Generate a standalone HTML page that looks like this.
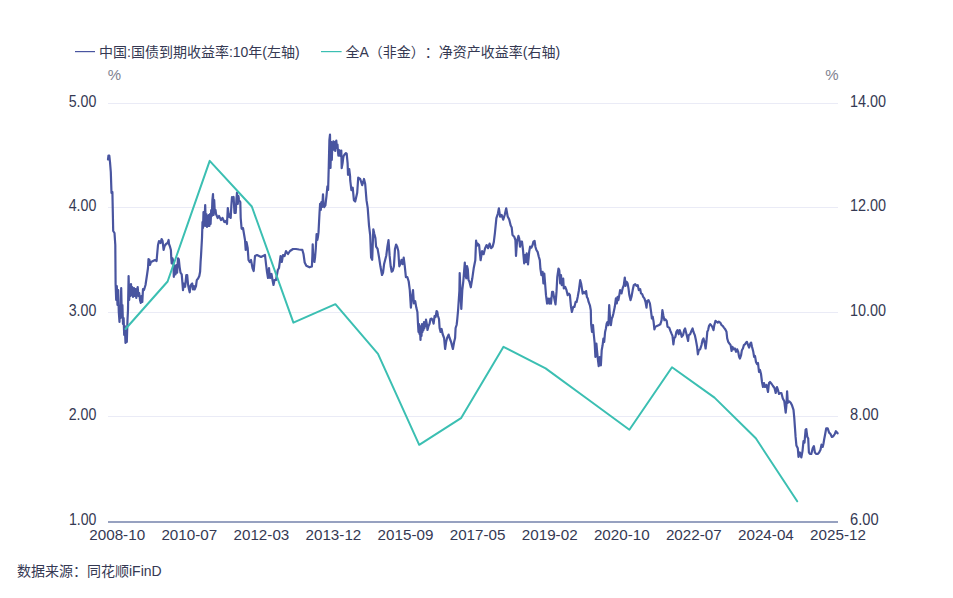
<!DOCTYPE html>
<html><head><meta charset="utf-8"><style>
html,body{margin:0;padding:0;background:#fff;}
svg{display:block;}
text{font-family:"Liberation Sans", "Noto Sans CJK SC", sans-serif;text-spacing-trim:space-all;}
</style></head><body>
<svg width="953" height="598" viewBox="0 0 953 598">
<rect width="953" height="598" fill="#fff"/>
<rect x="75" y="51" width="20" height="1.2" fill="#4955a0"/>
<text x="99" y="56.8" font-size="14" fill="#353953">中国:国债到期收益率:10年(左轴)</text>
<rect x="321" y="51" width="20.6" height="1.2" fill="#3bbfb2"/>
<text x="345.5" y="56.8" font-size="14" fill="#353953">全A（非金）：净资产收益率(右轴)</text>
<text x="114.5" y="79.5" font-size="15" fill="#80828f" text-anchor="middle">%</text>
<text x="832" y="79.5" font-size="15" fill="#80828f" text-anchor="middle">%</text>
<rect x="108" y="103" width="730" height="1" fill="#eaebf6"/>
<rect x="108" y="207" width="730" height="1" fill="#eaebf6"/>
<rect x="108" y="312" width="730" height="1" fill="#eaebf6"/>
<rect x="108" y="416" width="730" height="1" fill="#eaebf6"/>
<rect x="108" y="521" width="730" height="2" fill="#97a1c0"/>
<text x="68.7" y="106.9" font-size="15.6" fill="#353953" textLength="27.7" lengthAdjust="spacingAndGlyphs">5.00</text>
<text x="850.0" y="106.9" font-size="15.6" fill="#353953" textLength="36.1" lengthAdjust="spacingAndGlyphs">14.00</text>
<text x="68.7" y="211.4" font-size="15.6" fill="#353953" textLength="27.7" lengthAdjust="spacingAndGlyphs">4.00</text>
<text x="850.0" y="211.4" font-size="15.6" fill="#353953" textLength="36.1" lengthAdjust="spacingAndGlyphs">12.00</text>
<text x="68.7" y="315.9" font-size="15.6" fill="#353953" textLength="27.7" lengthAdjust="spacingAndGlyphs">3.00</text>
<text x="850.0" y="315.9" font-size="15.6" fill="#353953" textLength="36.1" lengthAdjust="spacingAndGlyphs">10.00</text>
<text x="68.7" y="420.4" font-size="15.6" fill="#353953" textLength="27.7" lengthAdjust="spacingAndGlyphs">2.00</text>
<text x="850.0" y="420.4" font-size="15.6" fill="#353953" textLength="28.6" lengthAdjust="spacingAndGlyphs">8.00</text>
<text x="68.9" y="524.9" font-size="15.6" fill="#353953" textLength="27.5" lengthAdjust="spacingAndGlyphs">1.00</text>
<text x="850.0" y="524.9" font-size="15.6" fill="#353953" textLength="28.6" lengthAdjust="spacingAndGlyphs">6.00</text>
<text x="89.3" y="539.8" font-size="15.2" fill="#353953" textLength="55.8" lengthAdjust="spacingAndGlyphs">2008-10</text>
<text x="161.4" y="539.8" font-size="15.2" fill="#353953" textLength="55.8" lengthAdjust="spacingAndGlyphs">2010-07</text>
<text x="233.5" y="539.8" font-size="15.2" fill="#353953" textLength="55.8" lengthAdjust="spacingAndGlyphs">2012-03</text>
<text x="305.5" y="539.8" font-size="15.2" fill="#353953" textLength="55.8" lengthAdjust="spacingAndGlyphs">2013-12</text>
<text x="377.6" y="539.8" font-size="15.2" fill="#353953" textLength="55.8" lengthAdjust="spacingAndGlyphs">2015-09</text>
<text x="449.7" y="539.8" font-size="15.2" fill="#353953" textLength="55.8" lengthAdjust="spacingAndGlyphs">2017-05</text>
<text x="521.8" y="539.8" font-size="15.2" fill="#353953" textLength="55.8" lengthAdjust="spacingAndGlyphs">2019-02</text>
<text x="593.9" y="539.8" font-size="15.2" fill="#353953" textLength="55.8" lengthAdjust="spacingAndGlyphs">2020-10</text>
<text x="665.9" y="539.8" font-size="15.2" fill="#353953" textLength="55.8" lengthAdjust="spacingAndGlyphs">2022-07</text>
<text x="738.0" y="539.8" font-size="15.2" fill="#353953" textLength="55.8" lengthAdjust="spacingAndGlyphs">2024-04</text>
<text x="810.1" y="539.8" font-size="15.2" fill="#353953" textLength="55.8" lengthAdjust="spacingAndGlyphs">2025-12</text>
<polyline points="108.0,159.5 108.5,155.5 109.3,155.5 110.0,162.0 110.8,172.0 111.5,193.0 112.4,192.0 113.2,231.0 114.5,233.0 115.3,245.0 115.6,284.0 116.2,300.0 116.8,286.0 117.5,305.0 118.2,290.0 118.8,312.0 119.5,322.0 120.0,306.0 120.6,318.0 121.2,288.0 121.8,315.0 122.4,305.0 123.0,324.0 123.6,318.0 124.2,335.0 124.8,326.0 125.5,343.0 126.2,332.0 126.8,342.0 127.5,320.0 128.0,310.0 128.6,276.0 129.2,300.0 129.8,285.0 130.5,296.0 131.0,284.0 131.6,295.0 132.2,287.0 133.0,297.0 134.0,288.0 134.8,296.0 135.5,289.0 136.3,298.0 137.0,290.0 137.7,287.0 138.4,296.0 139.2,293.0 140.0,300.0 140.8,303.0 141.5,296.0 142.3,302.0 143.0,289.0 144.0,290.0 145.5,285.0 147.0,275.0 148.0,268.0 148.5,259.0 149.5,260.0 150.0,265.0 151.0,262.0 153.0,261.0 155.0,260.0 156.6,261.0 157.0,256.0 158.0,245.0 159.0,241.0 160.6,243.0 161.6,239.0 162.6,241.0 163.6,250.0 164.6,246.0 166.0,244.0 167.6,243.0 168.6,240.0 169.0,244.0 170.0,246.7 170.9,250.0 171.3,258.4 171.7,263.4 172.5,258.4 173.4,261.7 173.8,276.8 174.6,265.9 175.5,274.3 176.3,265.1 177.1,272.6 178.0,258.4 178.8,259.2 179.6,266.8 180.5,272.6 181.7,274.3 182.2,280.1 183.0,290.2 183.8,283.5 185.1,286.8 186.3,275.1 187.2,275.1 188.0,284.3 188.8,288.5 189.7,292.3 190.5,286.0 191.4,284.3 192.2,283.5 193.0,289.4 193.9,286.0 194.7,289.4 196.0,286.0 196.8,280.1 198.1,278.5 199.3,276.0 200.1,271.8 200.6,261.7 201.0,256.0 202.0,238.0 202.5,222.0 203.0,228.0 203.5,212.0 204.0,226.0 204.6,218.0 205.2,205.0 205.8,226.0 206.4,214.0 207.0,227.0 207.6,216.0 208.2,226.0 208.8,215.0 209.4,226.0 210.0,214.0 210.6,224.0 211.2,210.0 211.8,216.0 212.4,200.0 213.0,194.0 213.6,215.0 214.2,200.0 214.8,212.0 215.5,210.0 216.0,214.0 217.7,218.0 219.0,216.0 221.0,220.0 222.5,218.0 224.4,222.0 226.0,221.0 227.0,224.0 227.8,208.0 228.6,214.0 229.4,217.0 230.2,214.0 230.7,218.0 231.4,205.0 232.0,197.0 233.0,199.0 233.6,197.0 234.5,213.0 235.7,213.0 236.4,200.0 237.0,192.5 237.8,204.0 238.4,196.0 239.0,200.0 240.3,202.0 240.7,218.0 241.6,228.5 242.8,229.3 243.0,228.0 244.0,234.0 245.0,240.0 245.7,250.0 246.5,242.0 247.7,248.0 248.5,260.0 249.7,262.0 251.0,260.0 252.5,268.0 253.7,271.0 255.0,256.0 257.0,255.0 259.0,256.0 261.0,257.0 263.0,256.0 265.0,255.0 266.0,264.0 267.0,272.0 268.0,278.0 269.0,268.0 270.0,278.0 271.5,274.0 272.5,280.0 273.5,285.0 274.5,280.0 276.0,280.0 277.8,270.0 279.0,268.0 280.6,256.0 281.8,262.0 283.0,255.0 284.6,256.0 286.0,251.0 288.0,254.0 290.0,251.0 293.0,249.0 296.0,249.0 299.0,249.5 302.3,249.8 303.5,254.0 304.7,262.5 306.3,265.7 309.5,267.3 311.9,266.5 312.4,255.0 312.7,244.3 313.2,258.0 313.8,256.2 314.4,262.0 315.0,257.8 315.8,248.3 316.6,234.0 317.3,240.0 317.9,237.1 318.5,232.4 319.5,213.3 320.1,203.8 320.8,210.0 321.4,202.2 322.2,207.0 323.0,194.3 323.6,206.0 324.3,207.0 325.4,205.4 326.5,195.9 327.4,186.3 328.1,190.0 328.8,165.0 329.4,140.0 330.0,134.7 330.5,168.0 331.0,150.0 331.3,142.0 331.8,160.0 332.3,145.0 333.0,150.0 333.4,141.4 334.0,149.0 334.6,142.0 335.2,151.0 335.8,143.0 336.3,140.5 337.0,148.0 337.5,144.7 338.0,152.0 338.4,155.6 339.0,150.0 339.6,150.6 340.4,156.0 341.3,150.6 341.7,168.1 342.6,163.1 343.2,158.0 343.8,155.6 345.0,154.0 345.9,153.1 346.7,153.9 347.6,163.1 348.0,174.8 349.2,169.0 350.1,176.5 350.2,180.2 351.4,190.2 352.7,187.7 353.9,200.2 355.2,201.5 357.2,192.7 358.2,177.7 360.2,179.0 362.2,185.2 364.0,179.0 365.2,184.0 366.5,200.2 367.7,207.8 369.0,225.3 370.2,235.4 371.1,257.6 372.2,259.8 373.3,229.3 374.3,233.7 375.4,238.0 376.1,246.7 377.6,248.9 379.1,257.6 380.4,266.3 382.0,275.0 383.0,272.8 384.1,264.1 385.2,259.8 386.3,255.4 387.4,246.7 388.5,240.2 389.6,255.4 390.7,266.3 391.7,271.7 392.8,270.7 393.9,266.3 395.0,248.9 396.1,244.6 397.2,246.7 398.3,251.1 399.3,266.3 400.4,264.1 401.5,259.8 402.6,264.1 403.7,257.6 404.8,266.3 405.9,277.2 407.4,277.2 408.7,281.5 409.8,290.2 410.9,307.6 411.7,298.9 413.0,290.2 413.9,303.3 415.2,301.1 416.3,307.6 417.4,312.0 418.0,324.0 418.5,332.0 419.0,324.0 419.5,334.0 420.0,330.0 420.5,340.0 421.0,326.0 421.5,336.0 422.0,324.0 422.5,332.0 423.0,325.0 423.5,330.0 424.0,322.0 424.5,328.0 425.0,323.0 425.5,326.0 426.0,319.6 426.8,324.0 427.5,330.0 428.5,326.0 429.5,324.0 430.5,319.0 431.6,318.6 432.6,320.0 433.6,323.6 434.6,316.0 435.6,317.0 436.6,311.0 437.3,312.0 438.0,316.0 439.0,319.0 439.6,328.0 440.6,332.0 441.6,329.0 442.6,334.0 444.1,338.0 445.1,349.0 446.1,342.0 447.1,338.0 448.6,334.6 449.6,338.0 451.1,342.0 452.1,346.0 452.9,349.0 454.1,342.0 455.1,338.0 455.6,328.0 456.6,325.0 457.1,321.0 458.1,310.0 459.4,290.7 459.7,273.0 460.4,290.0 461.3,308.9 462.3,290.0 463.3,281.3 464.8,262.5 465.5,275.0 466.3,278.3 467.0,266.0 467.8,269.2 468.5,280.0 469.3,281.3 470.8,287.3 472.3,278.3 473.8,267.7 475.3,260.2 476.1,240.6 476.8,246.0 477.6,243.6 479.1,245.1 480.6,260.2 482.1,251.2 483.6,254.2 485.1,248.2 486.6,245.1 488.1,248.2 489.6,243.6 491.1,248.2 492.6,246.7 493.8,242.1 494.9,233.1 496.4,218.1 497.9,213.5 498.9,208.3 500.1,216.6 501.7,215.0 503.2,219.6 504.7,215.0 506.2,208.3 507.7,216.6 509.2,219.6 510.7,225.6 511.7,227.5 512.5,235.0 514.2,236.7 515.4,240.0 516.0,256.0 517.0,241.7 518.4,235.9 519.2,238.4 520.0,246.7 520.9,241.7 522.0,241.7 523.0,250.0 524.2,263.5 525.0,255.1 525.9,261.8 526.7,253.4 528.0,264.3 529.2,251.8 530.1,246.7 531.4,247.6 532.6,245.0 533.4,241.7 534.6,240.9 535.4,246.7 536.4,250.0 537.6,251.8 538.8,256.8 539.8,260.1 540.4,268.5 541.4,275.2 542.6,271.8 543.4,283.5 544.3,273.5 545.1,283.5 546.0,295.2 547.1,303.6 548.1,298.6 549.3,303.6 550.1,298.6 551.0,303.6 552.1,291.9 553.1,291.9 554.3,298.6 555.5,304.4 556.5,291.9 557.3,276.8 558.5,268.5 559.3,270.2 560.2,283.5 561.0,275.2 561.8,285.2 563.2,278.5 563.8,288.5 565.2,286.9 566.5,290.2 567.7,295.2 568.9,293.6 569.9,295.2 571.0,306.9 571.9,312.0 573.2,306.9 574.4,306.9 575.6,301.9 576.6,301.9 577.7,296.9 578.9,290.2 580.2,280.2 581.1,283.5 581.9,288.5 582.7,293.6 583.9,291.9 585.3,293.6 586.1,291.1 586.9,296.9 587.8,298.6 588.6,301.9 589.9,305.3 590.8,310.3 591.1,323.7 592.0,331.9 593.0,325.2 593.7,333.5 594.7,343.6 595.4,357.0 596.4,343.6 597.0,350.3 598.0,360.3 598.7,366.2 599.7,357.0 600.9,365.3 601.7,350.3 602.6,345.3 603.4,338.6 604.2,341.9 605.1,331.9 605.9,328.5 606.7,323.5 607.6,321.8 608.4,325.2 609.2,305.1 610.1,318.5 610.9,325.2 611.8,318.5 612.6,316.8 613.4,313.5 614.8,306.8 615.9,298.4 616.8,303.4 617.6,296.8 618.4,300.1 619.3,295.1 620.1,290.1 621.5,293.4 622.6,288.4 623.8,285.1 624.8,277.5 625.5,285.9 626.5,281.7 627.6,283.4 628.5,288.4 629.3,295.1 630.5,300.1 631.5,296.8 632.7,290.1 633.8,285.1 635.2,284.2 636.5,285.9 637.7,285.1 638.8,290.1 640.2,289.2 641.0,293.4 642.2,294.2 643.2,296.8 644.4,298.4 645.5,301.8 646.5,307.6 647.2,300.9 648.5,300.1 649.9,303.4 651.1,311.8 651.9,318.5 652.7,316.8 653.6,321.8 654.4,329.4 655.2,326.9 656.9,326.0 658.6,325.2 660.3,324.3 661.6,320.2 662.4,310.1 663.3,315.2 664.4,320.2 665.3,319.3 666.7,320.9 667.5,326.7 669.2,327.6 670.4,330.9 671.4,333.4 672.5,335.9 673.4,344.3 674.2,338.4 675.4,336.8 676.4,331.8 677.5,330.1 678.7,334.3 679.7,330.1 680.9,333.4 681.7,336.8 683.1,335.1 684.2,330.1 685.1,328.4 685.9,331.8 687.1,336.8 688.1,341.0 688.7,335.1 690.1,334.3 691.4,330.9 692.6,328.4 693.4,331.8 694.8,335.1 695.9,340.1 697.1,346.8 697.9,354.3 698.8,350.2 700.1,349.3 701.5,345.1 702.6,340.1 703.5,338.4 704.8,343.5 705.6,348.5 706.5,341.0 707.3,331.8 708.1,330.1 709.0,325.9 710.2,324.2 711.0,325.1 712.2,326.7 713.5,330.1 714.3,325.1 715.5,320.9 716.5,321.7 717.7,322.6 718.8,321.7 720.2,322.6 721.5,325.1 722.7,325.9 723.9,327.6 725.2,329.2 726.5,331.8 727.2,338.4 728.2,341.8 729.4,343.5 730.6,345.1 731.6,351.0 732.4,346.8 733.6,349.3 734.9,348.5 736.1,351.8 737.2,349.3 738.2,351.8 739.1,356.8 739.9,358.5 741.1,355.2 741.9,350.2 742.9,348.5 743.9,345.1 744.9,344.3 746.1,342.6 746.9,341.8 748.1,345.1 749.1,347.6 750.3,343.5 751.1,342.6 752.0,346.8 753.3,351.8 754.1,356.8 755.0,356.0 756.0,362.0 757.0,364.0 758.0,363.0 759.0,372.0 760.0,370.0 761.0,374.0 762.0,382.0 763.0,387.0 764.0,383.0 765.0,387.0 766.5,385.0 768.0,392.0 769.0,383.0 770.0,382.0 771.7,384.0 773.0,386.0 774.5,388.0 775.7,393.0 777.0,387.0 778.0,390.0 779.0,394.0 780.0,393.0 781.4,393.0 782.8,398.5 784.3,401.3 785.7,412.7 786.4,405.6 787.1,391.4 787.8,402.8 789.2,401.3 790.7,402.8 792.1,405.6 793.5,409.9 794.2,417.0 794.9,426.9 795.6,436.9 796.4,445.4 797.8,448.3 798.5,456.8 799.9,452.5 801.3,457.5 802.5,451.1 803.5,441.2 804.5,442.6 805.6,429.8 806.3,429.1 807.3,436.9 808.2,438.3 808.9,452.5 809.9,454.0 811.3,454.0 812.7,448.3 813.9,446.1 814.9,452.5 816.3,454.0 817.7,454.0 819.1,452.5 820.5,449.7 821.5,444.7 822.7,446.9 823.4,444.0 824.1,439.7 825.2,434.0 826.2,428.4 827.7,428.4 829.1,432.6 830.5,434.0 831.9,436.9 833.3,436.2 834.8,434.0 835.9,431.2 837.6,433.3" fill="none" stroke="#4955a0" stroke-width="2.2" stroke-linejoin="round" stroke-linecap="round"/>
<polyline points="125.5,329.0 167.6,281.5 209.7,160.9 251.8,206.5 293.4,322.6 335.4,304.2 378.0,353.9 419.2,444.8 461.0,418.2 503.5,346.8 545.6,368.4 587.5,399.0 629.4,429.7 672.0,367.3 714.5,397.6 755.8,438.3 797.2,501.3" fill="none" stroke="#3bbfb2" stroke-width="2" stroke-linejoin="round" stroke-linecap="round"/>
<text x="17" y="576" font-size="14" fill="#353953">数据来源：同花顺iFinD</text>
</svg></body></html>
